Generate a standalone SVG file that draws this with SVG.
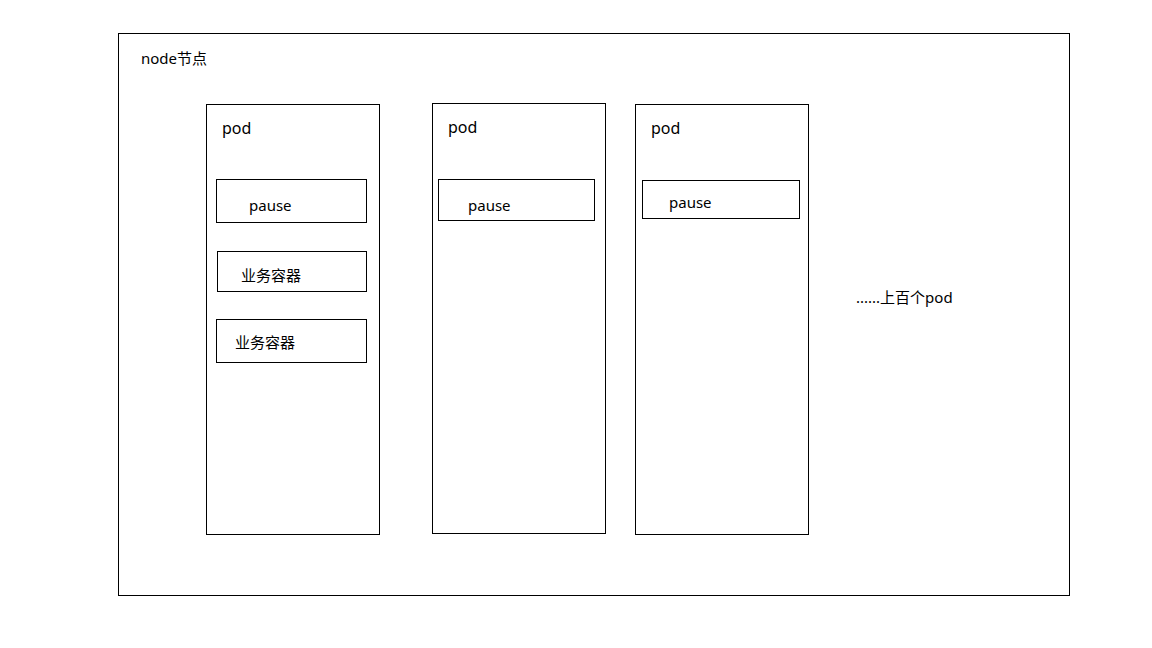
<svg xmlns="http://www.w3.org/2000/svg" width="1152" height="648" viewBox="0 0 1152 648">
<style>
rect{fill:none;stroke:#000;stroke-width:1}
text{font-family:"Noto Sans","Noto Sans CJK SC",sans-serif;font-size:15px;fill:#000}
.p{font-size:16px}
</style>
<rect x="0" y="0" width="1152" height="648" style="fill:#fff;stroke:none"/>
<g id="node">
<rect x="118.5" y="33.5" width="951" height="562"/>
<text x="141" y="64">node节点</text>
</g>
<g id="pod1">
<rect x="206.5" y="104.5" width="173" height="430"/>
<text class="p" x="222" y="134">pod</text>
</g>
<g id="pod1-pause">
<rect x="216.5" y="179.5" width="150" height="43"/>
<text x="249" y="211">pause</text>
</g>
<g id="pod1-biz1">
<rect x="217.5" y="251.5" width="149" height="40"/>
<text x="241" y="281">业务容器</text>
</g>
<g id="pod1-biz2">
<rect x="216.5" y="319.5" width="150" height="43"/>
<text x="235" y="348">业务容器</text>
</g>
<g id="pod2">
<rect x="432.5" y="103.5" width="173" height="430"/>
<text class="p" x="448" y="133">pod</text>
</g>
<g id="pod2-pause">
<rect x="438.5" y="179.5" width="156" height="41"/>
<text x="468" y="211">pause</text>
</g>
<g id="pod3">
<rect x="635.5" y="104.5" width="173" height="430"/>
<text class="p" x="651" y="134">pod</text>
</g>
<g id="pod3-pause">
<rect x="642.5" y="180.5" width="157" height="38"/>
<text x="669" y="208">pause</text>
</g>
<g id="more">
<text x="856" y="303">......上百个pod</text>
</g>
<g id="connectors"></g>
</svg>
